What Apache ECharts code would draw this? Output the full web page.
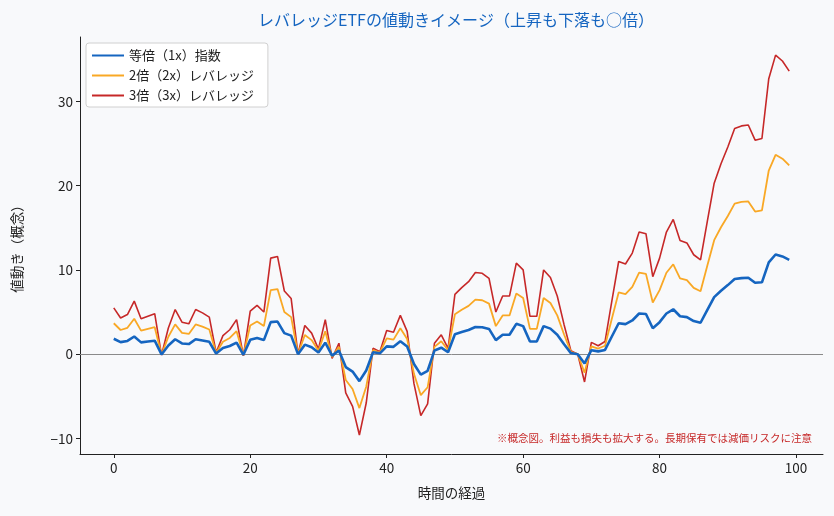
<!DOCTYPE html>
<html lang="ja">
<head>
  <meta charset="UTF-8">
  <title>レバレッジETFの値動きイメージ</title>
  <style>
    html, body { margin: 0; padding: 0; background: #f8f9fb; }
  </style>
</head>
<body>
  <div id="main" style="width: 834px;height:516px;"></div>
  <script src="https://cdn.jsdelivr.net/npm/echarts@6/dist/echarts.min.js"></script>
  <script type="text/javascript">
    // 時間軸 0..99
    var steps = [];
    for (var s = 0; s < 100; s++) steps.push(s);

    // 等倍（1x）指数
    var index1x = [
      1.83, 1.43, 1.57, 2.10, 1.40, 1.50, 1.60, -0.03, 1.03, 1.77,
      1.27, 1.20, 1.77, 1.63, 1.47, 0.07, 0.73, 0.97, 1.37, -0.07,
      1.70, 1.93, 1.67, 3.80, 3.87, 2.50, 2.20, 0.00, 1.13, 0.83,
      0.20, 1.37, -0.17, 0.43, -1.53, -2.07, -3.20, -1.93, 0.23, 0.10,
      0.93, 0.87, 1.53, 0.90, -1.17, -2.43, -1.97, 0.43, 0.77, 0.23,
      2.37, 2.63, 2.87, 3.23, 3.20, 3.00, 1.67, 2.30, 2.30, 3.60,
      3.33, 1.50, 1.50, 3.33, 3.03, 2.30, 1.17, 0.13, 0.00, -1.10,
      0.47, 0.33, 0.50, 2.10, 3.67, 3.57, 4.00, 4.83, 4.77, 3.07,
      3.80, 4.83, 5.33, 4.50, 4.40, 3.93, 3.73, 5.27, 6.77, 7.53,
      8.20, 8.93, 9.03, 9.07, 8.47, 8.53, 10.90, 11.83, 11.60, 11.20
    ];

    // 2倍（2x）レバレッジ
    var lev2x = [
      3.67, 2.87, 3.13, 4.20, 2.80, 3.00, 3.20, -0.07, 2.07, 3.53,
      2.53, 2.40, 3.53, 3.27, 2.93, 0.13, 1.47, 1.93, 2.73, -0.13,
      3.40, 3.87, 3.33, 7.60, 7.73, 5.00, 4.40, 0.00, 2.27, 1.67,
      0.40, 2.73, -0.33, 0.87, -3.07, -4.13, -6.40, -3.87, 0.47, 0.20,
      1.87, 1.73, 3.07, 1.80, -2.33, -4.87, -3.93, 0.87, 1.53, 0.47,
      4.73, 5.27, 5.73, 6.47, 6.40, 6.00, 3.33, 4.60, 4.60, 7.20,
      6.67, 3.00, 3.00, 6.67, 6.07, 4.60, 2.33, 0.27, 0.00, -2.20,
      0.93, 0.67, 1.00, 4.20, 7.33, 7.13, 8.00, 9.67, 9.53, 6.13,
      7.60, 9.67, 10.67, 9.00, 8.80, 7.87, 7.47, 10.53, 13.53, 15.07,
      16.40, 17.87, 18.07, 18.13, 16.93, 17.07, 21.80, 23.67, 23.20, 22.40
    ];

    // 3倍（3x）レバレッジ
    var lev3x = [
      5.5, 4.3, 4.7, 6.3, 4.2, 4.5, 4.8, -0.1, 3.1, 5.3,
      3.8, 3.6, 5.3, 4.9, 4.4, 0.2, 2.2, 2.9, 4.1, -0.2,
      5.1, 5.8, 5.0, 11.4, 11.6, 7.5, 6.6, 0.0, 3.4, 2.5,
      0.6, 4.1, -0.5, 1.3, -4.6, -6.2, -9.6, -5.8, 0.7, 0.3,
      2.8, 2.6, 4.6, 2.7, -3.5, -7.3, -5.9, 1.3, 2.3, 0.7,
      7.1, 7.9, 8.6, 9.7, 9.6, 9.0, 5.0, 6.9, 6.9, 10.8,
      10.0, 4.5, 4.5, 10.0, 9.1, 6.9, 3.5, 0.4, 0.0, -3.3,
      1.4, 1.0, 1.5, 6.3, 11.0, 10.7, 12.0, 14.5, 14.3, 9.2,
      11.4, 14.5, 16.0, 13.5, 13.2, 11.8, 11.2, 15.8, 20.3, 22.6,
      24.6, 26.8, 27.1, 27.2, 25.4, 25.6, 32.7, 35.5, 34.8, 33.6
    ];

    var xTicks = [0, 20, 40, 60, 80, 100];
    var yTicks = [-10, 0, 10, 20, 30];

    var seriesNames = ['等倍（1x）指数', '2倍（2x）レバレッジ', '3倍（3x）レバレッジ'];

    function pairs(arr) {
      return arr.map(function (v, i) { return [steps[i], v]; });
    }

    var font = '"Noto Sans CJK JP", "Noto Sans", sans-serif';

    var myChart = echarts.init(document.getElementById('main'));
    var option = {
      backgroundColor: '#f8f9fb',
      animation: false,
      textStyle: { fontFamily: font },
      title: {
        text: 'レバレッジETFの値動きイメージ（上昇も下落も○倍）',
        left: 451,
        top: 7,
        textAlign: 'center',
        textStyle: { color: '#1565c0', fontSize: 16, fontWeight: 'normal', fontFamily: font }
      },
      legend: {
        orient: 'vertical',
        left: 86,
        top: 43,
        padding: [6, 14, 5, 5],
        itemWidth: 32,
        itemHeight: 14,
        itemGap: 7,
        backgroundColor: '#ffffff',
        borderColor: '#d0d0d0',
        borderWidth: 1,
        borderRadius: 3,
        itemStyle: { opacity: 0 },
        textStyle: { fontSize: 13, color: '#222', fontFamily: font },
        data: seriesNames
      },
      grid: { left: 80, right: 11, top: 37, bottom: 62 },
      xAxis: {
        type: 'value',
        min: -4.95,
        max: 103.95,
        name: '時間の経過',
        nameLocation: 'middle',
        nameGap: 32,
        nameTextStyle: { fontSize: 13.5, color: '#222', fontFamily: font },
        axisLine: { show: true, onZero: false, lineStyle: { color: '#222', width: 1 } },
        axisTick: { show: true, length: 4, customValues: xTicks, lineStyle: { color: '#222' } },
        axisLabel: { customValues: xTicks, fontSize: 13.5, color: '#222', margin: 7 },
        splitLine: { show: false }
      },
      yAxis: {
        type: 'value',
        min: -11.85,
        max: 37.65,
        name: '値動き（概念）',
        nameLocation: 'middle',
        nameGap: 56,
        nameTextStyle: { fontSize: 13.5, color: '#222', fontFamily: font },
        axisLine: { show: true, onZero: false, lineStyle: { color: '#222', width: 1 } },
        axisTick: { show: true, length: 4, customValues: yTicks, lineStyle: { color: '#222' } },
        axisLabel: {
          customValues: yTicks, fontSize: 13.5, color: '#222', margin: 7,
          formatter: function (v) { return String(v).replace('-', '\u2212'); }
        },
        splitLine: { show: false }
      },
      series: [{
        name: seriesNames[0],
        type: 'line',
        symbol: 'none',
        z: 5,
        data: pairs(index1x),
        lineStyle: { color: '#1565c0', width: 2.6 },
        itemStyle: { color: '#1565c0' },
        markLine: {
          silent: true,
          symbol: 'none',
          label: { show: false },
          lineStyle: { color: '#8a8a8a', width: 1, type: 'solid' },
          data: [{ yAxis: 0 }]
        }
      }, {
        name: seriesNames[1],
        type: 'line',
        symbol: 'none',
        z: 4,
        data: pairs(lev2x),
        lineStyle: { color: '#f9a825', width: 1.8 },
        itemStyle: { color: '#f9a825' }
      }, {
        name: seriesNames[2],
        type: 'line',
        symbol: 'none',
        z: 3,
        data: pairs(lev3x),
        lineStyle: { color: '#c62828', width: 1.6 },
        itemStyle: { color: '#c62828' }
      }],
      graphic: [{
        type: 'text',
        right: 22,
        top: 433,
        style: {
          text: '※概念図。利益も損失も拡大する。長期保有では減価リスクに注意',
          fill: '#c62828',
          fontSize: 10.5,
          fontFamily: font
        }
      }]
    };

    myChart.setOption(option);
  </script>
</body>
</html>
